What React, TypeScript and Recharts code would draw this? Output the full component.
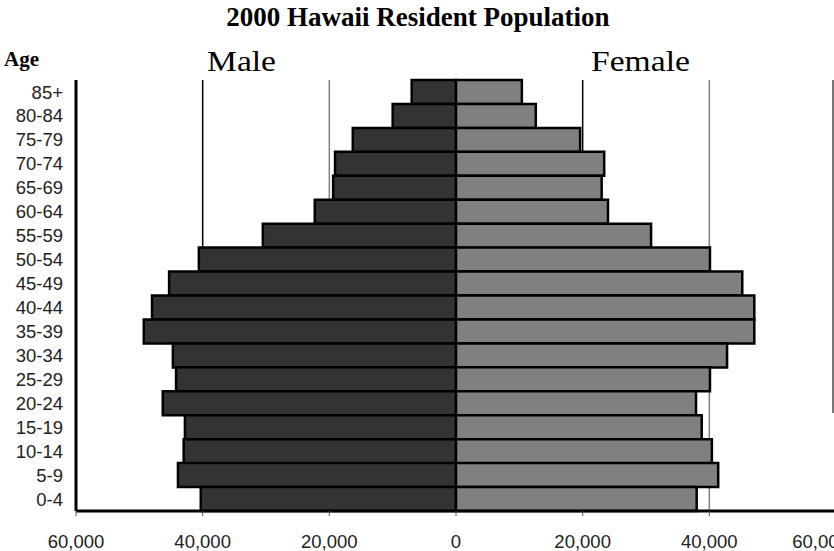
import React from 'react'
import {
  Bar,
  BarChart,
  CartesianGrid,
  XAxis,
  YAxis,
} from 'recharts'

const ages = [
  '85+', '80-84', '75-79', '70-74', '65-69', '60-64', '55-59', '50-54', '45-49',
  '40-44', '35-39', '30-34', '25-29', '20-24', '15-19', '10-14', '5-9', '0-4',
]
const male = [
  7000, 10000, 16300, 19100, 19400, 22300, 30500, 40600, 45300,
  48000, 49300, 44700, 44200, 46300, 42800, 43000, 43900, 40300,
]
const female = [
  10400, 12600, 19600, 23400, 23000, 24000, 30800, 40100, 45200,
  47100, 47100, 42800, 40100, 37900, 38800, 40400, 41400, 38000,
]
const xTicks = [-60000, -40000, -20000, 0, 20000, 40000, 60000]
const darkGrid = [-40000, 20000]
const lightGrid = [-20000, 40000]
const xDomain: [number, number] = [-60000, 60000]

const data = ages.map((age, i) => ({ age, male: -male[i], female: female[i] }))

const fmt = (v: number) => Math.abs(v).toLocaleString('en-US')

const tickFont = { fontFamily: 'Liberation Sans, Arial, sans-serif', fontSize: 18.5, fill: '#222' }

// map grid values through the x axis scale
const gridAt = (vals: number[]) => (props: any) => {
  const sc = props?.xAxis?.scale
  if (typeof sc === 'function') return vals.map((v) => sc(v))
  const { offset } = props
  return vals.map((v) => offset.left + ((v - xDomain[0]) / (xDomain[1] - xDomain[0])) * offset.width)
}

const App: React.FC = () => {
  return (
    <div style={{ position: 'absolute', left: 0, top: 0, width: 834, height: 551, overflow: 'hidden', background: '#fff' }}>
      <div style={{ position: 'absolute', left: 0, width: 836, top: 2, textAlign: 'center', fontFamily: 'Liberation Serif, Times New Roman, serif', fontWeight: 'bold', fontSize: 27 }}>
        2000 Hawaii Resident Population
      </div>
      <div style={{ position: 'absolute', left: 4, top: 47, fontFamily: 'Liberation Serif, serif', fontWeight: 'bold', fontSize: 21 }}>
        Age
      </div>
      <div style={{ position: 'absolute', left: 207, top: 44, fontFamily: 'Liberation Serif, serif', fontSize: 30, transform: 'scaleX(1.12)', transformOrigin: 'left' }}>
        Male
      </div>
      <div style={{ position: 'absolute', left: 591, top: 44, fontFamily: 'Liberation Serif, serif', fontSize: 30, transform: 'scaleX(1.12)', transformOrigin: 'left' }}>
        Female
      </div>
      <div style={{ position: 'absolute', left: 832, top: 80, width: 1.5, height: 333, background: '#777' }} />
      <div style={{ position: 'absolute', top: 0, left: 0 }}>
        <BarChart
          width={846}
          height={551}
          data={data}
          layout="vertical"
          stackOffset="sign"
          barCategoryGap={0}
          margin={{ top: 80, right: 10, bottom: 0, left: 0 }}
        >
          <CartesianGrid horizontal={false} stroke="#000" strokeWidth={1.5} verticalCoordinatesGenerator={gridAt(darkGrid)} />
          <CartesianGrid horizontal={false} stroke="#808080" strokeWidth={1.5} verticalCoordinatesGenerator={gridAt(lightGrid)} />
          <XAxis
            type="number"
            domain={xDomain}
            ticks={xTicks}
            tickFormatter={fmt}
            tick={tickFont}
            height={40}
            tickSize={5}
            tickMargin={19}
            axisLine={{ stroke: '#000', strokeWidth: 3 }}
            tickLine={{ stroke: '#555' }}
          />
          <XAxis
            xAxisId="top"
            orientation="top"
            type="number"
            domain={xDomain}
            tick={false}
            tickLine={false}
            height={0}
            axisLine={{ stroke: '#000', strokeWidth: 3 }}
          />
          <YAxis
            type="category"
            dataKey="age"
            width={76}
            tick={tickFont}
            tickLine={false}
            tickSize={0}
            tickMargin={13}
            axisLine={{ stroke: '#000', strokeWidth: 3 }}
            interval={0}
          />
          <Bar dataKey="male" stackId="p" fill="#333" stroke="#000" strokeWidth={2.5} isAnimationActive={false} />
          <Bar dataKey="female" stackId="p" fill="#808080" stroke="#000" strokeWidth={2.5} isAnimationActive={false} />
        </BarChart>
      </div>
    </div>
  )
}

export default App
